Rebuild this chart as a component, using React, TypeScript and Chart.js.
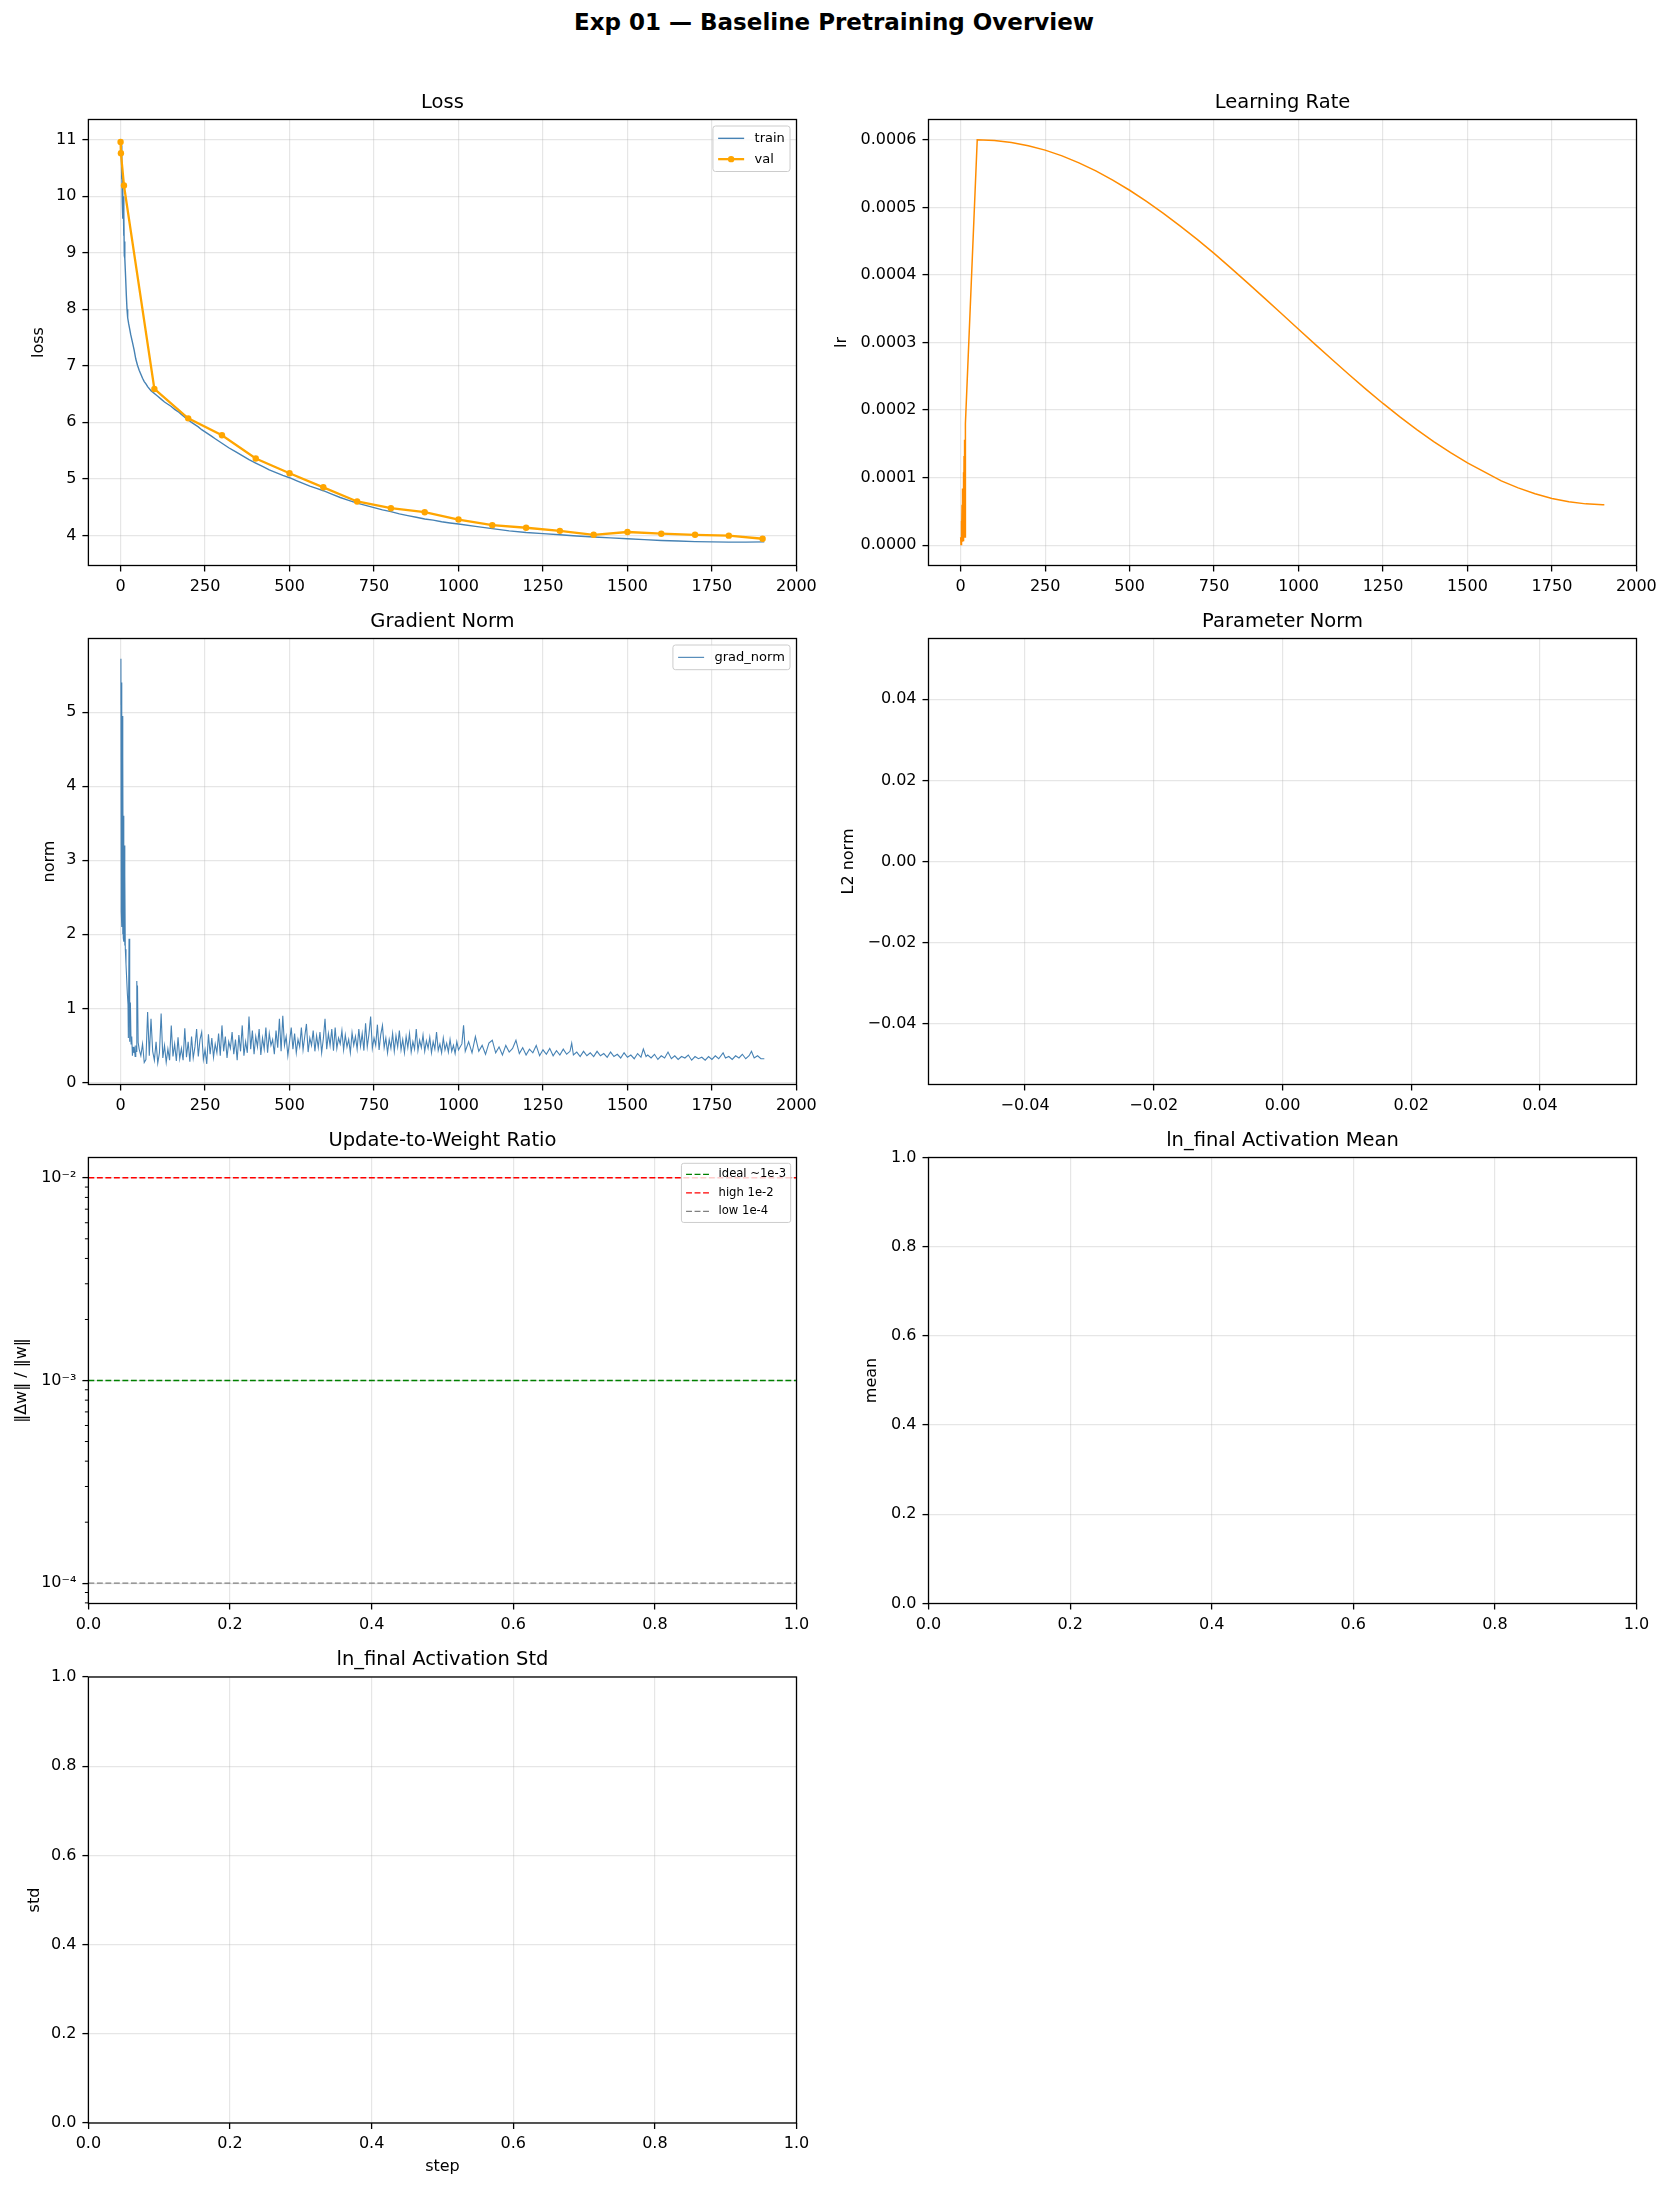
import React, { useEffect, useRef } from "react";
import { Chart, registerables } from "chart.js";

Chart.register(...registerables);

const FONT = "'DejaVu Sans', 'Liberation Sans', sans-serif";
Chart.defaults.font.family = FONT;
Chart.defaults.color = "#000";

// ================= DATA =================
const trainSteps = [
  0, 1, 2, 3, 4, 5, 6, 7, 8, 9, 10, 11, 12, 13,
  15, 17, 19, 21, 24, 27, 30,
  35, 40, 45, 50, 55, 60, 65, 70, 75, 80,
  90, 100, 110, 120, 130, 140, 150, 160, 170, 180, 190, 200, 210, 220, 230, 240, 250, 260, 270, 280, 290, 300,
  320, 340, 360, 380, 400, 420, 440, 460, 480, 500, 520, 540, 560, 580, 600,
  625, 650, 675, 700, 725, 750, 775, 800, 825, 850, 875, 900, 925, 950, 975, 1000,
  1050, 1100, 1150, 1200, 1250, 1300, 1350, 1400, 1450, 1500, 1550, 1600, 1650, 1700, 1750, 1800, 1850,
  1905,
];
const trainLoss = [
  11.0, 10.75, 10.9, 10.3, 10.6, 9.9, 10.4, 9.6, 10.0, 9.3, 9.7, 8.95, 9.2, 8.9,
  8.55, 8.25, 8.0, 7.85, 7.74, 7.65, 7.55,
  7.42, 7.28, 7.12, 7.01, 6.92, 6.85, 6.78, 6.72, 6.68, 6.63,
  6.56, 6.51, 6.46, 6.41, 6.36, 6.32, 6.28, 6.23, 6.19, 6.14, 6.09, 6.04, 6.0, 5.96, 5.92, 5.87, 5.83, 5.79, 5.75, 5.71, 5.67, 5.63,
  5.55, 5.48, 5.41, 5.34, 5.28, 5.22, 5.16, 5.11, 5.06, 5.02, 4.97, 4.92, 4.87, 4.83, 4.79,
  4.73, 4.67, 4.62, 4.57, 4.53, 4.49, 4.45, 4.42, 4.38, 4.35, 4.32, 4.29, 4.27, 4.24, 4.22, 4.2,
  4.16, 4.12, 4.08, 4.05, 4.03, 4.01, 3.99, 3.97, 3.955, 3.94, 3.925, 3.91, 3.9, 3.89, 3.885, 3.88, 3.88,
  3.885,
];

const valSteps = [0, 1, 10, 100, 200, 300, 400, 500, 600, 700, 800, 900, 1000, 1100, 1200, 1300, 1400, 1500, 1600, 1700, 1800, 1900];
const valLoss = [10.96, 10.76, 10.19, 6.59, 6.07, 5.77, 5.36, 5.1, 4.85, 4.6, 4.48, 4.41, 4.28, 4.18, 4.135, 4.08, 4.01, 4.06, 4.03, 4.01, 3.995, 3.94];

const lrSteps = [
  0, 1, 2, 3, 4, 5, 6, 7, 8, 9, 10, 11, 12, 13, 14, 49,
  100, 150, 200, 250, 300, 350, 400, 450, 500, 550, 600, 650, 700, 750, 800, 850, 900, 950, 1000,
  1050, 1100, 1150, 1200, 1250, 1300, 1350, 1400, 1450, 1500, 1550, 1600, 1650, 1700, 1750, 1800, 1850, 1900, 1905,
];
const lrValues = [
  0.000012, 0.000001, 0.000036, 0.000003, 0.00006, 0.000005, 0.000084, 0.000007, 0.000108, 0.000009, 0.000132, 0.000011, 0.000156, 0.000012, 0.00018, 0.0006,
  0.000599, 0.0005961, 0.0005913, 0.0005847, 0.0005762, 0.0005659, 0.0005539, 0.0005404, 0.0005253, 0.0005088, 0.0004911, 0.0004723, 0.0004525, 0.0004318, 0.00041, 0.0003879, 0.0003653, 0.0003426, 0.0003197,
  0.0002969, 0.0002744, 0.0002523, 0.0002307, 0.0002098, 0.0001899, 0.000171, 0.0001533, 0.0001369, 0.0001219, 0.0001085, 0.0000952, 0.0000848, 0.0000761, 0.0000693, 0.0000643, 0.0000612, 0.00006, 0.00006,
];

const gradSteps = [
  0, 1, 2, 3, 4, 5, 6, 7, 8, 9, 10, 11, 12, 13, 14, 16, 18, 20, 22, 23, 25, 27, 29, 31, 33, 35, 37, 39, 41, 43, 45, 47, 48, 49, 50, 52,
  55, 60, 65, 70, 75, 80, 85, 90, 95,
  100, 105, 110, 115, 120, 125, 130, 135, 140, 145,
  150, 155, 160, 165, 170, 175, 180, 185, 190, 195,
  200, 205, 210, 215, 220, 225, 230, 235, 240, 245,
  250, 255, 260, 265, 270, 275, 280, 285, 290, 295,
  300, 305, 310, 315, 320, 325, 330, 335, 340, 345,
  350, 355, 360, 365, 370, 375, 380, 385, 390, 395,
  400, 405, 410, 415, 420, 425, 430, 435, 440, 445,
  450, 455, 460, 465, 470, 475, 480, 485, 490, 495,
  500, 505, 510, 515, 520, 525, 530, 535, 540, 545,
  550, 555, 560, 565, 570, 575, 580, 585, 590, 595,
  600, 605, 610, 615, 620, 625, 630, 635, 640, 645,
  650, 655, 660, 665, 670, 675, 680, 685, 690, 695,
  700, 705, 710, 715, 720, 725, 730, 735, 740, 745,
  750, 755, 760, 765, 770, 775, 780, 785, 790, 795,
  800, 805, 810, 815, 820, 825, 830, 835, 840, 845,
  850, 855, 860, 865, 870, 875, 880, 885, 890, 895,
  900, 905, 910, 915, 920, 925, 930, 935, 940, 945,
  950, 955, 960, 965, 970, 975, 980, 985, 990, 995,
  1000, 1010, 1015, 1020, 1030, 1040, 1050, 1060, 1070, 1080,
  1090, 1100, 1110, 1120, 1130, 1140, 1150, 1160, 1170, 1180,
  1190, 1200, 1210, 1220, 1230, 1240, 1250, 1260, 1270, 1280,
  1290, 1300, 1310, 1320, 1330, 1335, 1340, 1350, 1360, 1370,
  1380, 1390, 1400, 1410, 1420, 1430, 1440, 1450, 1460, 1470,
  1480, 1490, 1500, 1510, 1520, 1530, 1540, 1547, 1555, 1560,
  1570, 1580, 1590, 1600, 1610, 1620, 1630, 1640, 1650, 1660,
  1670, 1680, 1690, 1700, 1710, 1720, 1730, 1740, 1750, 1760,
  1770, 1783, 1790, 1800, 1810, 1820, 1830, 1840, 1850, 1860,
  1867, 1875, 1885, 1895, 1905,
];
const gradValues = [
  5.1, 5.72, 2.3, 5.4, 2.1, 4.95, 2.0, 4.4, 1.95, 3.6, 1.9, 3.2, 1.85, 2.8, 1.8, 1.6, 1.4, 1.2, 1.05, 0.6, 1.94, 0.55, 1.08, 0.52, 0.62, 0.36, 0.48, 0.4, 0.45, 0.35, 0.5, 0.42, 1.37, 0.9, 1.31, 0.54,
  0.45, 0.36, 0.52, 0.27, 0.31, 0.95, 0.36, 0.86, 0.42,
  0.30, 0.55, 0.26, 0.40, 0.93, 0.33, 0.50, 0.27, 0.45, 0.30,
  0.77, 0.35, 0.52, 0.29, 0.61, 0.32, 0.46, 0.30, 0.73, 0.34,
  0.55, 0.28, 0.62, 0.33, 0.48, 0.72, 0.35, 0.58, 0.68, 0.31,
  0.44, 0.25, 0.65, 0.38, 0.60, 0.34, 0.52, 0.40, 0.66, 0.36,
  0.77, 0.42, 0.62, 0.33, 0.55, 0.46, 0.68, 0.38, 0.58, 0.30,
  0.64, 0.42, 0.77, 0.36, 0.55, 0.40, 0.89, 0.45, 0.70, 0.38,
  0.62, 0.48, 0.72, 0.37, 0.60, 0.45, 0.74, 0.40, 0.66, 0.50,
  0.58, 0.38, 0.70, 0.47, 0.86, 0.42, 0.90, 0.50, 0.62, 0.36,
  0.55, 0.74, 0.45, 0.66, 0.40, 0.58, 0.48, 0.74, 0.44, 0.62,
  0.79, 0.41, 0.60, 0.50, 0.70, 0.42, 0.63, 0.47, 0.68, 0.40,
  0.59, 0.86, 0.45, 0.66, 0.50, 0.72, 0.43, 0.74, 0.46, 0.60,
  0.52, 0.70, 0.44, 0.64, 0.48, 0.58, 0.40, 0.67, 0.50, 0.62,
  0.45, 0.72, 0.49, 0.66, 0.43, 0.80, 0.48, 0.65, 0.89, 0.46,
  0.60, 0.50, 0.78, 0.44, 0.65, 0.77, 0.47, 0.60, 0.40, 0.58,
  0.46, 0.66, 0.42, 0.63, 0.48, 0.70, 0.44, 0.58, 0.40, 0.62,
  0.47, 0.66, 0.41, 0.55, 0.45, 0.72, 0.43, 0.57, 0.47, 0.64,
  0.42, 0.56, 0.46, 0.61, 0.40, 0.55, 0.45, 0.68, 0.43, 0.52,
  0.40, 0.60, 0.44, 0.53, 0.41, 0.58, 0.42, 0.50, 0.39, 0.55,
  0.44, 0.52, 0.77, 0.42, 0.55, 0.40, 0.62, 0.42, 0.50, 0.38,
  0.53, 0.57, 0.40, 0.48, 0.37, 0.50, 0.41, 0.46, 0.57, 0.39,
  0.47, 0.37, 0.45, 0.40, 0.50, 0.36, 0.44, 0.38, 0.46, 0.36,
  0.43, 0.37, 0.45, 0.38, 0.42, 0.53, 0.37, 0.41, 0.35, 0.42,
  0.36, 0.40, 0.35, 0.42, 0.36, 0.39, 0.34, 0.41, 0.35, 0.38,
  0.33, 0.40, 0.34, 0.37, 0.32, 0.39, 0.34, 0.45, 0.35, 0.37,
  0.33, 0.38, 0.31, 0.36, 0.33, 0.41, 0.32, 0.36, 0.31, 0.35,
  0.33, 0.37, 0.30, 0.35, 0.32, 0.34, 0.30, 0.35, 0.31, 0.36,
  0.32, 0.40, 0.33, 0.35, 0.31, 0.36, 0.33, 0.38, 0.32, 0.36,
  0.42, 0.33, 0.36, 0.32, 0.32,
];

// reference levels for update-to-weight ratio
const refLevels = [1e-3, 1e-2, 1e-4];
const refLabels = ["ideal ~1e-3", "high 1e-2", "low 1e-4"];

// tick values and labels
const stepTicks = [0, 250, 500, 750, 1000, 1250, 1500, 1750, 2000];
const stepTickLabels = ["0", "250", "500", "750", "1000", "1250", "1500", "1750", "2000"];
const lossTicks = [4, 5, 6, 7, 8, 9, 10, 11];
const lossTickLabels = ["4", "5", "6", "7", "8", "9", "10", "11"];
const lrTicks = [0, 0.0001, 0.0002, 0.0003, 0.0004, 0.0005, 0.0006];
const lrTickLabels = ["0.0000", "0.0001", "0.0002", "0.0003", "0.0004", "0.0005", "0.0006"];
const gradTicks = [0, 1, 2, 3, 4, 5];
const gradTickLabels = ["0", "1", "2", "3", "4", "5"];
const paramTicks = [-0.04, -0.02, 0, 0.02, 0.04];
const paramTickLabels = ["\u22120.04", "\u22120.02", "0.00", "0.02", "0.04"];
const unitTicks = [0, 0.2, 0.4, 0.6, 0.8, 1.0];
const unitTickLabels = ["0.0", "0.2", "0.4", "0.6", "0.8", "1.0"];
const ratioTicks = [1e-4, 1e-3, 1e-2];
const ratioTickLabels = ["10\u207B\u2074", "10\u207B\u00B3", "10\u207B\u00B2"];
const ratioMinorTicks = [8e-5, 9e-5, 2e-4, 3e-4, 4e-4, 5e-4, 6e-4, 7e-4, 8e-4, 9e-4, 2e-3, 3e-3, 4e-3, 5e-3, 6e-3, 7e-3, 8e-3, 9e-3];

// ================= STYLE / LAYOUT =================
const STEEL = "#4682b4";
const ORANGE = "#ffa500";
const DARKORANGE = "#ff8c00";
const REF_COLORS = ["#008000", "#ff0000", "#808080"];
const GRID = "rgba(176,176,176,0.32)";
const DASH = [5.9, 2.6];

const AX_H = 446;
const COLS = [
  { cx: 0, cw: 834, axLeft: 88.4, axRight: 796.5 },
  { cx: 820, cw: 848, axLeft: 928.5, axRight: 1636.5 },
];
const ROWS = [
  { axTop: 119.5, cy: 59, ch: 577 },
  { axTop: 638.5, cy: 578, ch: 577 },
  { axTop: 1157.5, cy: 1097, ch: 577 },
  { axTop: 1677, cy: 1617, ch: 573 },
];

const STEP_MIN = -95.25;
const STEP_MAX = 2000.25;

function pts(xs: number[], ys: number[]) {
  return xs.map((x, i) => ({ x, y: ys[i] }));
}

type LegendItem = { label: string; color: string; width: number; dash?: number[]; marker?: number };
type PanelDef = {
  key: string;
  col: number;
  row: number;
  title: string;
  yTitle: string;
  yTitlePad: number;
  xTitle?: string;
  xMin: number;
  xMax: number;
  xTicks: number[];
  xLabels: string[];
  yMin: number;
  yMax: number;
  yTicks: number[];
  yLabels: string[];
  yLog?: boolean;
  minorY?: number[];
  datasets: any[];
  legend?: { fontSize: number; items: LegendItem[] };
};

const PANELS: PanelDef[] = [
  {
    key: "loss", col: 0, row: 0, title: "Loss", yTitle: "loss", yTitlePad: 30.9,
    xMin: STEP_MIN, xMax: STEP_MAX, xTicks: stepTicks, xLabels: stepTickLabels,
    yMin: 3.467, yMax: 11.357, yTicks: lossTicks, yLabels: lossTickLabels,
    datasets: [
      { label: "val", data: pts(valSteps, valLoss), borderColor: ORANGE, backgroundColor: ORANGE, borderWidth: 2.3, pointRadius: 3.2, pointBackgroundColor: ORANGE, pointBorderColor: ORANGE, pointBorderWidth: 0, tension: 0, order: 0 },
      { label: "train", data: pts(trainSteps, trainLoss), borderColor: STEEL, borderWidth: 1.4, pointRadius: 0, tension: 0, order: 1 },
    ],
    legend: { fontSize: 13, items: [
      { label: "train", color: STEEL, width: 1.4 },
      { label: "val", color: ORANGE, width: 2.3, marker: 3.2 },
    ] },
  },
  {
    key: "lr", col: 1, row: 0, title: "Learning Rate", yTitle: "lr", yTitlePad: 14.2,
    xMin: STEP_MIN, xMax: STEP_MAX, xTicks: stepTicks, xLabels: stepTickLabels,
    yMin: -0.00003, yMax: 0.00063, yTicks: lrTicks, yLabels: lrTickLabels,
    datasets: [
      { label: "lr", data: pts(lrSteps, lrValues), borderColor: DARKORANGE, borderWidth: 1.5, pointRadius: 0, tension: 0 },
    ],
  },
  {
    key: "grad", col: 0, row: 1, title: "Gradient Norm", yTitle: "norm", yTitlePad: 41.8,
    xMin: STEP_MIN, xMax: STEP_MAX, xTicks: stepTicks, xLabels: stepTickLabels,
    yMin: -0.028, yMax: 5.995, yTicks: gradTicks, yLabels: gradTickLabels,
    datasets: [
      { label: "grad_norm", data: pts(gradSteps, gradValues), borderColor: STEEL, borderWidth: 1.1, pointRadius: 0, tension: 0 },
    ],
    legend: { fontSize: 13, items: [{ label: "grad_norm", color: STEEL, width: 1.1 }] },
  },
  {
    key: "param", col: 1, row: 1, title: "Parameter Norm", yTitle: "L2 norm", yTitlePad: 21,
    xMin: -0.055, xMax: 0.055, xTicks: paramTicks, xLabels: paramTickLabels,
    yMin: -0.055, yMax: 0.055, yTicks: paramTicks, yLabels: paramTickLabels,
    datasets: [],
  },
  {
    key: "ratio", col: 0, row: 2, title: "Update-to-Weight Ratio", yTitle: "\u2016\u0394w\u2016 / \u2016w\u2016", yTitlePad: 13.4,
    xMin: 0, xMax: 1, xTicks: unitTicks, xLabels: unitTickLabels,
    yMin: 7.943e-5, yMax: 0.012589, yTicks: ratioTicks, yLabels: ratioTickLabels, yLog: true, minorY: ratioMinorTicks,
    datasets: refLevels.map((v, i) => ({
      label: refLabels[i], data: [{ x: 0, y: v }, { x: 1, y: v }], borderColor: REF_COLORS[i], borderWidth: 1.3, borderDash: DASH, pointRadius: 0, tension: 0,
    })),
    legend: { fontSize: 11.6, items: refLabels.map((l, i) => ({ label: l, color: REF_COLORS[i], width: 1.3, dash: DASH })) },
  },
  {
    key: "mean", col: 1, row: 2, title: "ln_final Activation Mean", yTitle: "mean", yTitlePad: 44,
    xMin: 0, xMax: 1, xTicks: unitTicks, xLabels: unitTickLabels,
    yMin: 0, yMax: 1, yTicks: unitTicks, yLabels: unitTickLabels,
    datasets: [],
  },
  {
    key: "std", col: 0, row: 3, title: "ln_final Activation Std", yTitle: "std", yTitlePad: 26.4, xTitle: "step",
    xMin: 0, xMax: 1, xTicks: unitTicks, xLabels: unitTickLabels,
    yMin: 0, yMax: 1, yTicks: unitTicks, yLabels: unitTickLabels,
    datasets: [],
  },
];

// ================= DRAWING HELPERS =================
function roundRectPath(ctx: CanvasRenderingContext2D, x: number, y: number, w: number, h: number, r: number) {
  ctx.beginPath();
  ctx.moveTo(x + r, y);
  ctx.lineTo(x + w - r, y);
  ctx.arcTo(x + w, y, x + w, y + r, r);
  ctx.lineTo(x + w, y + h - r);
  ctx.arcTo(x + w, y + h, x + w - r, y + h, r);
  ctx.lineTo(x + r, y + h);
  ctx.arcTo(x, y + h, x, y + h - r, r);
  ctx.lineTo(x, y + r);
  ctx.arcTo(x, y, x + r, y, r);
  ctx.closePath();
}

function drawLegend(ctx: CanvasRenderingContext2D, a: any, lg: { fontSize: number; items: LegendItem[] }) {
  const fs = lg.fontSize;
  ctx.save();
  ctx.font = `${fs}px ${FONT}`;
  const pad = 0.4 * fs, rowH = 1.1 * fs, gap = 0.5 * fs, hl = 2 * fs, tp = 0.8 * fs, bap = 0.5 * fs;
  let tw = 0;
  for (const it of lg.items) tw = Math.max(tw, ctx.measureText(it.label).width);
  const n = lg.items.length;
  const w = 2 * pad + hl + tp + tw;
  const h = 2 * pad + n * rowH + (n - 1) * gap;
  const x0 = a.right - bap - w;
  const y0 = a.top + bap;
  roundRectPath(ctx, x0, y0, w, h, 0.2 * fs);
  ctx.fillStyle = "rgba(255,255,255,0.8)";
  ctx.fill();
  ctx.strokeStyle = "#cccccc";
  ctx.lineWidth = 1;
  ctx.stroke();
  lg.items.forEach((it, i) => {
    const cy = y0 + pad + i * (rowH + gap) + rowH / 2;
    const hx = x0 + pad;
    ctx.beginPath();
    ctx.setLineDash(it.dash || []);
    ctx.strokeStyle = it.color;
    ctx.lineWidth = it.width;
    ctx.moveTo(hx, cy);
    ctx.lineTo(hx + hl, cy);
    ctx.stroke();
    ctx.setLineDash([]);
    if (it.marker) {
      ctx.beginPath();
      ctx.arc(hx + hl / 2, cy, it.marker, 0, Math.PI * 2);
      ctx.fillStyle = it.color;
      ctx.fill();
    }
    ctx.fillStyle = "#000";
    ctx.textAlign = "left";
    ctx.textBaseline = "middle";
    ctx.fillText(it.label, hx + hl + tp, cy);
  });
  ctx.restore();
}

function makePlugin(p: PanelDef) {
  return {
    id: "mplFrame_" + p.key,
    afterDatasetsDraw(chart: any) {
      const { ctx, chartArea: a } = chart;
      ctx.save();
      if (p.minorY) {
        const ys = chart.scales.y;
        ctx.strokeStyle = "#000";
        ctx.lineWidth = 1;
        for (const v of p.minorY) {
          const py = ys.getPixelForValue(v);
          if (py < a.top - 0.5 || py > a.bottom + 0.5) continue;
          ctx.beginPath();
          ctx.moveTo(a.left - 3.5, py);
          ctx.lineTo(a.left, py);
          ctx.stroke();
        }
      }
      ctx.strokeStyle = "#000";
      ctx.lineWidth = 1.3;
      ctx.strokeRect(a.left, a.top, a.right - a.left, a.bottom - a.top);
      ctx.restore();
      if (p.legend) drawLegend(ctx, a, p.legend);
    },
  };
}

function buildConfig(p: PanelDef): any {
  const col = COLS[p.col];
  const row = ROWS[p.row];
  const axBottom = row.axTop + AX_H;
  const yAxisW = col.axLeft - col.cx;
  const xAxisH = row.cy + row.ch - axBottom;
  const padRight = col.cx + col.cw - col.axRight;
  const topOff = row.axTop - row.cy;
  const TITLE_SIZE = 19.5;
  const TITLE_LH = 1.2;
  const tPadBottom = 5.05;
  const tPadTop = topOff - TITLE_SIZE * TITLE_LH - tPadBottom;
  const tickFont = { family: FONT, size: 16 };
  const gridOpts = { color: GRID, lineWidth: 1.2, drawTicks: true, tickLength: 6, tickColor: "#000", tickWidth: 1.3 };

  return {
    type: "line",
    data: { datasets: p.datasets },
    options: {
      responsive: false,
      maintainAspectRatio: false,
      animation: false,
      devicePixelRatio: 1,
      events: [],
      layout: { padding: { left: 0, top: 0, bottom: 0, right: padRight } },
      plugins: {
        legend: { display: false },
        tooltip: { enabled: false },
        title: {
          display: true,
          text: p.title,
          color: "#000",
          fullSize: false,
          font: { family: FONT, size: TITLE_SIZE, weight: "normal", lineHeight: TITLE_LH },
          padding: { top: tPadTop, bottom: tPadBottom },
        },
      },
      scales: {
        x: {
          type: "linear",
          position: "bottom",
          min: p.xMin,
          max: p.xMax,
          afterBuildTicks: (s: any) => {
            s.min = p.xMin;
            s.max = p.xMax;
            s.ticks = p.xTicks.map((v) => ({ value: v }));
          },
          afterFit: (s: any) => {
            s.height = xAxisH;
          },
          ticks: {
            autoSkip: false, maxRotation: 0, minRotation: 0, padding: 5.4, color: "#000", font: tickFont,
            callback: (_v: any, i: number) => p.xLabels[i],
          },
          grid: gridOpts,
          border: { display: false },
          title: p.xTitle
            ? { display: true, text: p.xTitle, color: "#000", font: { family: FONT, size: 16, lineHeight: 1 }, padding: { top: 0, bottom: 15.1 } }
            : { display: false },
        },
        y: {
          type: p.yLog ? "logarithmic" : "linear",
          position: "left",
          min: p.yMin,
          max: p.yMax,
          afterBuildTicks: (s: any) => {
            s.min = p.yMin;
            s.max = p.yMax;
            s.ticks = p.yTicks.map((v) => ({ value: v, major: false }));
          },
          afterFit: (s: any) => {
            s.width = yAxisW;
          },
          ticks: {
            autoSkip: false, padding: 6, color: "#000", font: tickFont, crossAlign: "near",
            callback: (_v: any, i: number) => p.yLabels[i],
          },
          grid: gridOpts,
          border: { display: false },
          title: {
            display: true, text: p.yTitle, color: "#000",
            font: { family: FONT, size: 16, lineHeight: 1 },
            padding: { top: p.yTitlePad, bottom: 0 },
          },
        },
      },
    },
    plugins: [makePlugin(p)],
  };
}

function PanelChart({ def }: { def: PanelDef }) {
  const ref = useRef<HTMLCanvasElement | null>(null);
  useEffect(() => {
    if (!ref.current) return;
    const chart = new Chart(ref.current, buildConfig(def));
    return () => chart.destroy();
  }, [def]);
  const col = COLS[def.col];
  const row = ROWS[def.row];
  return (
    <canvas
      ref={ref}
      width={col.cw}
      height={row.ch}
      style={{ position: "absolute", left: col.cx, top: row.cy, width: col.cw, height: row.ch }}
    />
  );
}

export default function App() {
  return (
    <div style={{ position: "absolute", left: 0, top: 0, width: 1668, height: 2190, background: "#fff", overflow: "hidden" }}>
      <div
        style={{
          position: "absolute", left: 0, top: 10.5, width: 1668, textAlign: "center",
          fontFamily: FONT, fontWeight: "bold", fontSize: 23, lineHeight: "23px", color: "#000", whiteSpace: "nowrap",
        }}
      >
        Exp 01 — Baseline Pretraining Overview
      </div>
      {PANELS.map((p) => (
        <PanelChart key={p.key} def={p} />
      ))}
    </div>
  );
}
